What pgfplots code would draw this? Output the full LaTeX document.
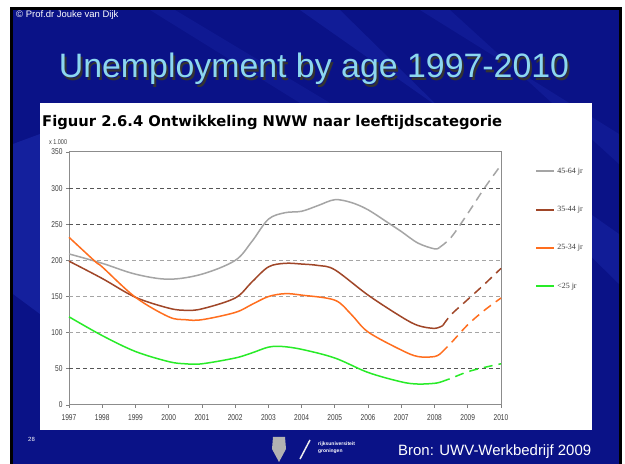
\documentclass[border=0pt]{standalone}
\usepackage{fontspec}
\setmainfont{Liberation Sans}
\newfontfamily\verd{DejaVu Sans}
\newfontfamily\legserif{Liberation Serif}
\usepackage{pgfplots}
\pgfplotsset{compat=1.18}
\definecolor{slideblue}{RGB}{10,18,135}
\definecolor{streak}{RGB}{40,60,200}
\definecolor{titlecyan}{RGB}{140,215,240}
\definecolor{cgray}{RGB}{165,165,165}
\definecolor{cbrown}{RGB}{160,70,40}
\definecolor{corange}{RGB}{255,110,30}
\definecolor{cgreen}{RGB}{40,235,40}
\definecolor{gdark}{RGB}{85,85,85}
\definecolor{glight}{RGB}{165,165,165}
\definecolor{ticktext}{RGB}{60,60,60}
\newcommand{\nar}[1]{\scalebox{0.78}[1]{#1}}
\begin{document}
\begin{tikzpicture}
\begin{scope}[x=1bp,y=1bp]
\useasboundingbox (0,0) rectangle (625,464);
\fill[white] (0,0) rectangle (625,464);
\fill[black] (10,0) rectangle (622,457);
\fill[slideblue] (13,0) rectangle (619,454);
% streaks
\fill[streak,opacity=0.35] (13,320) -- (13,170) -- (40,150) -- (40,330) -- cycle;
\fill[streak,opacity=0.25] (300,454) -- (340,454) -- (619,180) -- (619,230) -- cycle;
\fill[streak,opacity=0.2] (420,454) -- (450,454) -- (619,300) -- (619,330) -- cycle;
\fill[streak,opacity=0.18] (150,454) -- (175,454) -- (330,361) -- (300,361) -- cycle;
% copyright
\node[anchor=base west,inner sep=0,text=white,font=\fontsize{9.5}{11}\selectfont] at (16,446) {© Prof.dr Jouke van Dijk};
% slide title
\node[anchor=center,inner sep=0,text=black!80,font=\fontsize{34}{40}\selectfont] at (316,392.5) {Unemployment by age 1997-2010};
\node[anchor=center,inner sep=0,text=titlecyan,font=\fontsize{34}{40}\selectfont] at (314,395) {Unemployment by age 1997-2010};
% white panel
\fill[white] (40,34) rectangle (592,361);
% chart title
\node[anchor=base west,inner sep=0,text=black,font=\verd\bfseries\fontsize{14.8}{17}\selectfont] at (42,337) {Figuur 2.6.4 Ontwikkeling NWW naar leeftijdscategorie};
\node[anchor=base west,inner sep=0,text=ticktext,font=\fontsize{7}{8}\selectfont] at (49,319) {\nar{x 1.000}};
% footer
\node[anchor=base west,inner sep=0,text=white,font=\fontsize{6}{7}\selectfont] at (28,22) {28};
\fill[gray!60] (273,27) -- (285,27) -- (286,15) -- (279,2) -- (272,15) -- cycle;
\draw[white!85!gray, line width=1.5bp] (300,5) -- (310,24);
\node[anchor=base west,inner sep=0,text=white,font=\bfseries\fontsize{5}{6}\selectfont] at (318,18) {rijksuniversiteit};
\node[anchor=base west,inner sep=0,text=white,font=\bfseries\fontsize{5}{6}\selectfont] at (318,11) {groningen};
\node[anchor=base west,inner sep=0,text=white,font=\fontsize{15}{17}\selectfont] at (398,8) {Bron: UWV-Werkbedrijf 2009};
\end{scope}
\begin{axis}[
  at={(69bp,59bp)}, anchor=south west,
  scale only axis, width=432bp, height=253bp,
  xmin=1997, xmax=2010, ymin=0, ymax=350,
  xtick={1997,...,2010},
  xticklabels={\nar{1997},\nar{1998},\nar{1999},\nar{2000},\nar{2001},\nar{2002},\nar{2003},\nar{2004},\nar{2005},\nar{2006},\nar{2007},\nar{2008},\nar{2009},\nar{2010}},
  ytick={0,50,...,350},
  yticklabels={\nar{0},\nar{50},\nar{100},\nar{150},\nar{200},\nar{250},\nar{300},\nar{350}},
  tick label style={font=\fontsize{8.5}{9}\selectfont, text=ticktext},
  xticklabel style={yshift=-3bp},
  tick align=outside, major tick length=3bp,
  tick style={gray, line width=0.8bp},
  xtick pos=bottom, ytick pos=left,
  axis line style={gray!90, line width=1bp},
  legend style={at={(1.079,0.945)}, anchor=north west, draw=none, fill=none,
    inner sep=0pt, row sep=27.5bp, font=\legserif\fontsize{8}{9}\selectfont,
    text=ticktext},
  legend cell align=left,
  legend image code/.code={\draw[#1, line width=2bp, solid] (0bp,0bp) -- (18bp,0bp);},
  every axis plot/.append style={line width=1.5bp, smooth, tension=0.55},
  clip=false,
]
\draw[glight, line width=1.2bp, dash pattern=on 4bp off 3bp] (axis cs:1997,100) -- (axis cs:2010,100);
\draw[glight, line width=1.2bp, dash pattern=on 4bp off 3bp] (axis cs:1997,150) -- (axis cs:2010,150);
\draw[glight, line width=1.2bp, dash pattern=on 4bp off 3bp] (axis cs:1997,200) -- (axis cs:2010,200);
\draw[gdark, line width=1.2bp, dash pattern=on 4bp off 3bp] (axis cs:1997,50) -- (axis cs:2010,50);
\draw[gdark, line width=1.2bp, dash pattern=on 4bp off 3bp] (axis cs:1997,250) -- (axis cs:2010,250);
\draw[gdark, line width=1.2bp, dash pattern=on 4bp off 3bp] (axis cs:1997,300) -- (axis cs:2010,300);
% 45-64
\addplot[cgray] coordinates {(1997,209) (1998,196) (1999,181) (2000,174) (2001,181) (2002,200) (2002.5,226) (2003,257) (2003.5,266) (2004,268) (2004.5,276) (2005,284) (2005.5,280) (2006,270) (2006.67,250) (2007,240) (2007.5,224) (2008,216) (2008.15,218)};
\addlegendentry{45-64 jr}
\addplot[cgray, dash pattern=on 9bp off 6bp, forget plot] coordinates {(2008.15,218) (2008.5,232) (2009,265) (2009.5,300) (2010,332)};
% 35-44
\addplot[cbrown] coordinates {(1997,199) (1998,175) (1999,149) (2000,134) (2000.5,131) (2001,133) (2002,148) (2002.5,170) (2003,191) (2003.5,196) (2004,195) (2004.5,193) (2005,187) (2006,152) (2007,122) (2007.5,110) (2008,106) (2008.25,110)};
\addlegendentry{35-44 jr}
\addplot[cbrown, dash pattern=on 9bp off 6bp, forget plot] coordinates {(2008.25,110) (2008.5,125) (2009,146) (2009.5,167) (2010,189)};
% 25-34
\addplot[corange] coordinates {(1997,232) (1997.8,198) (1998,191) (1999,149) (2000,122) (2000.5,118) (2001,118) (2002,128) (2002.5,139) (2003,150) (2003.5,154) (2004,152) (2005,145) (2005.5,125) (2006,101) (2007,76) (2007.5,67) (2008,67) (2008.2,72)};
\addlegendentry{25-34 jr}
\addplot[corange, dash pattern=on 9bp off 6bp, forget plot] coordinates {(2008.2,72) (2008.5,86) (2009,111) (2009.5,131) (2010,148)};
% <25
\addplot[cgreen] coordinates {(1997,122) (1998,96) (1999,74) (2000,60) (2000.5,57) (2001,57) (2002,65) (2002.5,72) (2003,80) (2003.4,81) (2004,77) (2005,65) (2006,45) (2007,32) (2007.5,29) (2008,30) (2008.2,32)};
\addlegendentry{<25 jr}
\addplot[cgreen, dash pattern=on 9bp off 6bp, forget plot] coordinates {(2008.2,32) (2008.5,37) (2009,46) (2009.5,52) (2010,57)};
\end{axis}
\end{tikzpicture}
\end{document}
